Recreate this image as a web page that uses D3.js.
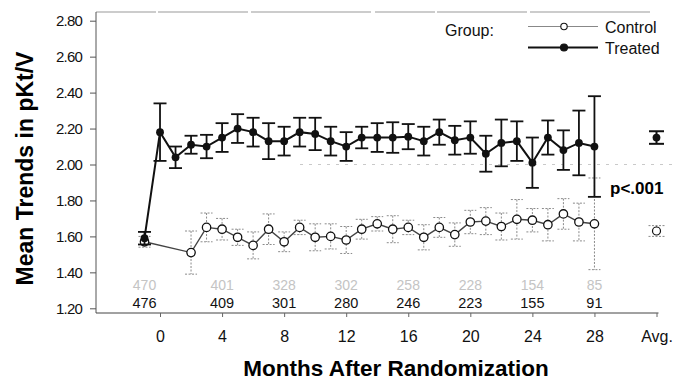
<!DOCTYPE html>
<html>
<head>
<meta charset="utf-8">
<script src="https://cdn.jsdelivr.net/npm/d3@7"></script>
<style>
	body { margin: 0; background: #fff; }
	svg text { font-family: "Liberation Sans", Arial, sans-serif; }
</style>
</head>
<body>
<svg id="chart" width="673" height="380"></svg>
<script>
	'use strict';

	// months, -1 is the baseline visit
	var treatedMonths = [-1, 0, 1, 2, 3, 4, 5, 6, 7, 8, 9, 10, 11, 12, 13, 14, 15, 16, 17, 18, 19, 20, 21, 22, 23, 24, 25, 26, 27, 28];
	var treatedMean = [1.59, 2.18, 2.04, 2.11, 2.10, 2.15, 2.20, 2.18, 2.13, 2.13, 2.18, 2.17, 2.13, 2.10, 2.15, 2.15, 2.15, 2.155, 2.13, 2.18, 2.135, 2.15, 2.06, 2.12, 2.13, 2.01, 2.15, 2.08, 2.12, 2.10];
	var treatedErr = [0.035, 0.16, 0.06, 0.05, 0.065, 0.08, 0.08, 0.08, 0.10, 0.08, 0.08, 0.09, 0.08, 0.08, 0.06, 0.08, 0.085, 0.07, 0.08, 0.07, 0.08, 0.09, 0.10, 0.13, 0.11, 0.14, 0.095, 0.11, 0.18, 0.28];

	var controlMonths = [-1, 2, 3, 4, 5, 6, 7, 8, 9, 10, 11, 12, 13, 14, 15, 16, 17, 18, 19, 20, 21, 22, 23, 24, 25, 26, 27, 28];
	var controlMean = [1.57, 1.51, 1.65, 1.64, 1.595, 1.55, 1.64, 1.57, 1.65, 1.595, 1.60, 1.58, 1.64, 1.67, 1.64, 1.65, 1.595, 1.65, 1.61, 1.68, 1.685, 1.655, 1.695, 1.69, 1.665, 1.725, 1.68, 1.67];
	var controlErr = [0.03, 0.12, 0.08, 0.06, 0.045, 0.075, 0.085, 0.055, 0.04, 0.075, 0.07, 0.075, 0.055, 0.04, 0.075, 0.04, 0.07, 0.055, 0.065, 0.065, 0.075, 0.075, 0.11, 0.065, 0.09, 0.085, 0.105, 0.255];

	// overall averages, drawn at the "Avg." slot
	var avgPos = 32;
	var avgMean = { control: 1.63, treated: 2.15 };
	var avgErr = { control: 0.03, treated: 0.035 };

	var countMonths = [-1, 4, 8, 12, 16, 20, 24, 28];
	var controlN = ["470", "401", "328", "302", "258", "228", "154", "85"];
	var treatedN = ["476", "409", "301", "280", "246", "223", "155", "91"];

	var xTicks = [0, 4, 8, 12, 16, 20, 24, 28, 32];
	var xTickLabels = ["0", "4", "8", "12", "16", "20", "24", "28", "Avg."];
	var yTicks = [1.2, 1.4, 1.6, 1.8, 2.0, 2.2, 2.4, 2.6, 2.8];

	var svg = d3.select("#chart");

	var x = d3.scaleLinear().domain([-1, 32]).range([144.5, 656.5]);
	var y = d3.scaleLinear().domain([1.2, 2.8]).range([308.3, 20.7]);
	var axisY = 313, axisX = 96, topY = 12;

	// frame
	svg.append("line")
		.attr("x1", axisX).attr("x2", 652)
		.attr("y1", topY).attr("y2", topY)
		.attr("stroke", "#999").attr("stroke-width", 1)
		.attr("stroke-dasharray", "60,2,90,3,120,4");

	// faint reference line at 2.00
	svg.append("line")
		.attr("x1", 300).attr("x2", 673)
		.attr("y1", y(2.0)).attr("y2", y(2.0))
		.attr("stroke", "#bbb").attr("stroke-width", 0.8)
		.attr("stroke-dasharray", "3,6");

	var yAxis = svg.append("g")
		.attr("transform", "translate(" + axisX + ",0)")
		.call(d3.axisLeft(y).tickValues(yTicks).tickSize(6).tickPadding(8).tickFormat(d3.format(".2f")));
	yAxis.select(".domain").attr("d", "M0," + topY + "V" + axisY).attr("stroke", "#555");
	yAxis.selectAll(".tick line").attr("stroke", "#555");
	yAxis.selectAll(".tick text")
		.attr("font-size", 15).attr("letter-spacing", -0.8).attr("fill", "#111");

	var xAxis = svg.append("g")
		.attr("transform", "translate(0," + axisY + ")")
		.call(d3.axisBottom(x).tickValues(xTicks).tickSize(4).tickPadding(14)
			.tickFormat(function (d, i) { return xTickLabels[i]; }));
	xAxis.select(".domain").attr("d", "M" + axisX + ",0H" + (x(avgPos) + 2)).attr("stroke", "#444");
	xAxis.selectAll(".tick line").attr("stroke", "#666");
	xAxis.selectAll(".tick text").attr("font-size", 16).attr("fill", "#111");

	// axis titles
	svg.append("text")
		.attr("transform", "translate(33,168.5) rotate(-90)")
		.attr("text-anchor", "middle")
		.attr("font-size", 23).attr("font-weight", "bold")
		.text("Mean Trends in pKt/V");

	svg.append("text")
		.attr("x", 396).attr("y", 376)
		.attr("text-anchor", "middle")
		.attr("font-size", 22.5).attr("font-weight", "bold")
		.text("Months After Randomization");

	var errorBars = function (g, months, mean, err, half, color, width, dash) {
		var bars = g.selectAll("g.bar").data(months).enter().append("g").attr("class", "bar");
		bars.append("line")
			.attr("x1", function (d) { return x(d); })
			.attr("x2", function (d) { return x(d); })
			.attr("y1", function (d, i) { return y(mean[i] + err[i]); })
			.attr("y2", function (d, i) { return y(mean[i] - err[i]); });
		bars.append("line")
			.attr("x1", function (d) { return x(d) - half; })
			.attr("x2", function (d) { return x(d) + half; })
			.attr("y1", function (d, i) { return y(mean[i] + err[i]); })
			.attr("y2", function (d, i) { return y(mean[i] + err[i]); });
		bars.append("line")
			.attr("x1", function (d) { return x(d) - half; })
			.attr("x2", function (d) { return x(d) + half; })
			.attr("y1", function (d, i) { return y(mean[i] - err[i]); })
			.attr("y2", function (d, i) { return y(mean[i] - err[i]); });
		bars.selectAll("line")
			.attr("stroke", color).attr("stroke-width", width)
			.attr("stroke-dasharray", dash);
	};

	var line = function (months, mean) {
		return d3.line()
			.x(function (d) { return x(d); })
			.y(function (d, i) { return y(mean[i]); })(months);
	};

	// control series
	var gc = svg.append("g");
	errorBars(gc, controlMonths, controlMean, controlErr, 6, "#8a8a8a", 1, "2,1.5");
	gc.append("path")
		.attr("d", line(controlMonths, controlMean))
		.attr("fill", "none").attr("stroke", "#444").attr("stroke-width", 1.4);
	gc.selectAll("circle").data(controlMonths).enter().append("circle")
		.attr("cx", function (d) { return x(d); })
		.attr("cy", function (d, i) { return y(controlMean[i]); })
		.attr("r", 4.2)
		.attr("fill", "#fff").attr("stroke", "#111").attr("stroke-width", 1.3);

	// treated series
	var gt = svg.append("g");
	errorBars(gt, treatedMonths, treatedMean, treatedErr, 6.5, "#111", 1.8, null);
	gt.append("path")
		.attr("d", line(treatedMonths, treatedMean))
		.attr("fill", "none").attr("stroke", "#111").attr("stroke-width", 2);
	gt.selectAll("circle").data(treatedMonths).enter().append("circle")
		.attr("cx", function (d) { return x(d); })
		.attr("cy", function (d, i) { return y(treatedMean[i]); })
		.attr("r", 3.9)
		.attr("fill", "#111");

	// averages
	var ga = svg.append("g");
	errorBars(ga, [avgPos], [avgMean.treated], [avgErr.treated], 7.5, "#111", 2, null);
	var gac = svg.append("g");
	errorBars(gac, [avgPos], [avgMean.control], [avgErr.control], 8, "#8a8a8a", 1, "2,1.5");
	ga.append("circle")
		.attr("cx", x(avgPos)).attr("cy", y(avgMean.treated)).attr("r", 3.9).attr("fill", "#111");
	gac.append("circle")
		.attr("cx", x(avgPos)).attr("cy", y(avgMean.control)).attr("r", 4)
		.attr("fill", "#fff").attr("stroke", "#111").attr("stroke-width", 1.2);

	svg.append("text")
		.attr("x", 610).attr("y", 194)
		.attr("font-size", 17).attr("font-weight", "bold")
		.text("p<.001");

	// counts at risk
	svg.append("g").selectAll("text").data(countMonths).enter().append("text")
		.attr("x", function (d) { return x(d); })
		.attr("y", 290)
		.attr("text-anchor", "middle")
		.attr("font-size", 14).attr("fill", "#c4c4c4")
		.text(function (d, i) { return controlN[i]; });
	svg.append("g").selectAll("text").data(countMonths).enter().append("text")
		.attr("x", function (d) { return x(d); })
		.attr("y", 308)
		.attr("text-anchor", "middle")
		.attr("font-size", 14.5).attr("fill", "#111")
		.text(function (d, i) { return treatedN[i]; });

	// legend
	var legend = svg.append("g");
	legend.append("text")
		.attr("x", 445).attr("y", 36)
		.attr("font-size", 16).attr("fill", "#111")
		.text("Group:");
	var items = [
		{ label: "Control", y: 26.5, fill: "#fff", stroke: "#888", w: 1.2 },
		{ label: "Treated", y: 47.5, fill: "#111", stroke: "#111", w: 1.8 }
	];
	var li = legend.selectAll("g.item").data(items).enter().append("g").attr("class", "item");
	li.append("line")
		.attr("x1", 528).attr("x2", 598)
		.attr("y1", function (d) { return d.y; }).attr("y2", function (d) { return d.y; })
		.attr("stroke", function (d) { return d.stroke; })
		.attr("stroke-width", function (d) { return d.w; });
	li.append("circle")
		.attr("cx", 564).attr("cy", function (d) { return d.y; })
		.attr("r", function (d, i) { return i ? 3.5 : 3.2; })
		.attr("fill", function (d) { return d.fill; })
		.attr("stroke", "#111").attr("stroke-width", 1.1);
	li.append("text")
		.attr("x", 605).attr("y", function (d) { return d.y + 6; })
		.attr("font-size", 16).attr("fill", "#111")
		.text(function (d) { return d.label; });
</script>
</body>
</html>
